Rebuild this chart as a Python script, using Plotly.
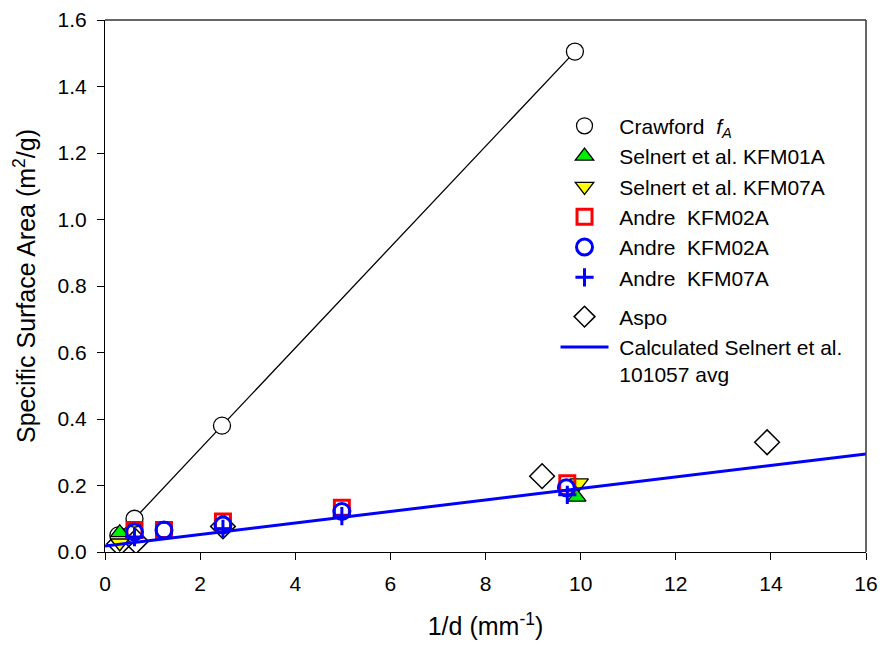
import plotly.graph_objects as go

# Data
crawford_x = [0.28, 0.62, 2.46, 9.88]
crawford_y = [0.05, 0.10, 0.38, 1.505]

selnert01_x = [0.31, 9.92]
selnert01_y = [0.058, 0.165]

selnert07_x = [0.31, 9.97]
selnert07_y = [0.027, 0.208]

andre02_sq_x = [0.62, 1.24, 2.48, 4.98, 9.72]
andre02_sq_y = [0.066, 0.066, 0.092, 0.133, 0.207]

andre02_ci_x = [0.62, 1.24, 2.48, 4.98, 9.70]
andre02_ci_y = [0.06, 0.066, 0.081, 0.122, 0.193]

andre07_x = [0.62, 2.48, 4.98, 9.72]
andre07_y = [0.045, 0.07, 0.108, 0.172]

aspo_x = [0.30, 0.65, 2.48, 9.19, 13.92]
aspo_y = [0.025, 0.032, 0.077, 0.228, 0.33]

calc_x = [0, 16]
calc_y = [0.018, 0.295]

FONT = "Arial, Liberation Sans, sans-serif"
SP = "\u00a0"

fig = go.Figure()

fig.add_trace(go.Scatter(x=crawford_x, y=crawford_y, mode="lines",
                         line=dict(color="black", width=1.3), showlegend=False,
                         hoverinfo="skip"))
fig.add_trace(go.Scatter(x=aspo_x, y=aspo_y, mode="markers", name=SP + "Aspo",
                         legendrank=7, legendgroup="b",
                         marker=dict(symbol="diamond", size=19, color="rgba(255,255,255,0)",
                                     line=dict(color="black", width=1.5))))
fig.add_trace(go.Scatter(x=crawford_x, y=crawford_y, mode="markers",
                         name=SP + "Crawford  <i>f</i><sub><i>A</i></sub>", legendrank=1,
                         legendgroup="a",
                         marker=dict(symbol="circle", size=17, color="white",
                                     line=dict(color="black", width=1.3))))
fig.add_trace(go.Scatter(x=selnert07_x, y=selnert07_y, mode="markers",
                         name=SP + "Selnert et al. KFM07A", legendrank=3, legendgroup="a",
                         marker=dict(symbol="triangle-down", size=16, color="#ffff00",
                                     line=dict(color="black", width=1.3))))
fig.add_trace(go.Scatter(x=selnert01_x, y=selnert01_y, mode="markers",
                         name=SP + "Selnert et al. KFM01A", legendrank=2, legendgroup="a",
                         marker=dict(symbol="triangle-up", size=16, color="#00ee00",
                                     line=dict(color="black", width=1.3))))
fig.add_trace(go.Scatter(x=andre02_sq_x, y=andre02_sq_y, mode="markers",
                         name=SP + "Andre  KFM02A", legendrank=4, legendgroup="a",
                         marker=dict(symbol="square", size=15, color="rgba(255,255,255,0)",
                                     line=dict(color="#ff0000", width=3))))
fig.add_trace(go.Scatter(x=andre02_ci_x, y=andre02_ci_y, mode="markers",
                         name=SP + "Andre  KFM02A ", legendrank=5, legendgroup="a",
                         marker=dict(symbol="circle", size=16, color="rgba(255,255,255,0)",
                                     line=dict(color="#0000ff", width=3))))
fig.add_trace(go.Scatter(x=andre07_x, y=andre07_y, mode="markers",
                         name=SP + "Andre  KFM07A", legendrank=6, legendgroup="a",
                         marker=dict(symbol="cross-thin", size=13, color="#0000ff",
                                     line=dict(color="#0000ff", width=3))))
fig.add_trace(go.Scatter(x=calc_x, y=calc_y, mode="lines",
                         name=SP + "Calculated Selnert et al.<br>" + SP + "101057 avg",
                         legendrank=8, legendgroup="b",
                         line=dict(color="#0000ff", width=3)))

fig.update_layout(
    width=880, height=646,
    margin=dict(l=105, r=14, t=20, b=94, autoexpand=False),
    paper_bgcolor="white", plot_bgcolor="white",
    font=dict(family=FONT, size=21, color="black"),
    showlegend=True,
    legend=dict(x=0.592, y=0.839, xanchor="left", yanchor="top",
                bgcolor="rgba(0,0,0,0)", font=dict(size=21, family=FONT),
                itemsizing="trace", itemwidth=48, tracegroupgap=9, valign="top",
                groupclick="toggleitem"),
    xaxis=dict(range=[0, 16], tickvals=[0, 2, 4, 6, 8, 10, 12, 14, 16],
               ticks="outside", ticklen=7, tickwidth=1, tickcolor="black",
               showline=True, linecolor="black", linewidth=1, mirror=False,
               showgrid=False, zeroline=False, automargin=False,
               ticklabelstandoff=6, ticklabeloverflow="allow",
               title=dict(text="1/d (mm<sup>-1</sup>)", font=dict(size=25), standoff=23)),
    yaxis=dict(range=[0, 1.6], tickvals=[0, 0.2, 0.4, 0.6, 0.8, 1.0, 1.2, 1.4, 1.6],
               tickformat=".1f",
               ticks="outside", ticklen=7, tickwidth=1, tickcolor="black",
               showline=True, linecolor="black", linewidth=1, mirror=False,
               showgrid=False, zeroline=False, automargin=False,
               ticklabelstandoff=6, ticklabeloverflow="allow",
               title=dict(text="Specific Surface Area (m<sup>2</sup>/g)", font=dict(size=25), standoff=14)),
    shapes=[
        dict(type="line", xref="paper", yref="paper", x0=0, x1=1, y0=1, y1=1,
             line=dict(color="#333", width=1.5)),
        dict(type="line", xref="paper", yref="paper", x0=1, x1=1, y0=0, y1=1,
             line=dict(color="#333", width=1.5)),
    ],
)

fig.write_html("out.html", config={"displayModeBar": False},
               post_script="document.body.style.margin='0';document.body.style.overflow='hidden';")
